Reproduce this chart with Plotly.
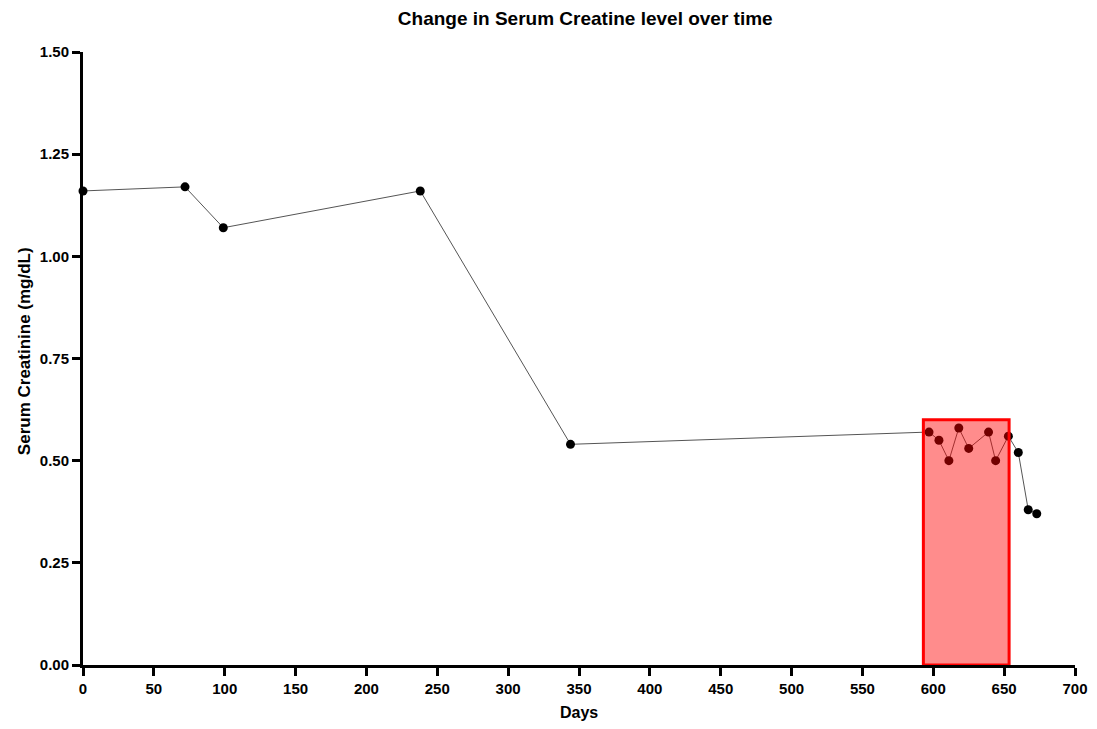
import plotly.graph_objects as go

days = [0, 72, 99, 238, 344, 597, 604, 611, 618, 625, 639, 644, 653, 660, 667, 673]
creatinine = [1.16, 1.17, 1.07, 1.16, 0.54, 0.57, 0.55, 0.50, 0.58, 0.53, 0.57, 0.50, 0.56, 0.52, 0.38, 0.37]

box_x = [593, 653.5]
box_y = [0, 0.6]

x_ticks = list(range(0, 701, 50))
y_ticks = [0.0, 0.25, 0.5, 0.75, 1.0, 1.25, 1.5]

font_family = "Liberation Sans, Arial, sans-serif"

fig = go.Figure()
fig.add_trace(go.Scatter(
    x=days, y=creatinine, mode="lines+markers",
    line=dict(color="#555555", width=1),
    marker=dict(color="black", size=9),
    showlegend=False, cliponaxis=False,
))

fig.add_shape(type="rect", xref="x", yref="y",
              x0=box_x[0], x1=box_x[1], y0=box_y[0], y1=box_y[1],
              fillcolor="rgba(255,0,0,0.45)",
              line=dict(color="#ff0000", width=3), layer="above")

fig.update_layout(
    width=1081, height=713,
    paper_bgcolor="white", plot_bgcolor="white",
    margin=dict(l=75, r=14, t=44, b=56),
    title=dict(text="<b>Change in Serum Creatine level over time</b>",
               x=0.534, xanchor="center", y=1 - 10.7 / 713, yanchor="middle",
               font=dict(family=font_family, size=19, color="black")),
    font=dict(family=font_family, color="black"),
    annotations=[
        dict(text="<b>Days</b>", xref="paper", yref="paper", x=0.5, y=-47/613,
             xanchor="center", yanchor="middle", showarrow=False,
             font=dict(size=16, family=font_family, color="black")),
        dict(text="<b>Serum Creatinine (mg/dL)</b>", xref="paper", yref="paper",
             x=0, y=0.512, xshift=-59, textangle=-90,
             xanchor="center", yanchor="middle", showarrow=False,
             font=dict(size=17, family=font_family, color="black")),
    ],
)

fig.update_xaxes(
    range=[0, 700], tickvals=x_ticks,
    ticktext=[f"<b>{t}</b>" for t in x_ticks],
    showgrid=False, zeroline=False, automargin=False,
    showline=True, linecolor="black", linewidth=3,
    ticks="outside", ticklen=8, tickwidth=3, tickcolor="black",
    tickfont=dict(size=15, family=font_family, color="black"),
)
fig.update_yaxes(
    range=[0, 1.5], tickvals=y_ticks,
    ticktext=[f"<b>{t:.2f}</b>" for t in y_ticks],
    showgrid=False, zeroline=False, automargin=False,
    showline=True, linecolor="black", linewidth=3,
    ticks="outside", ticklen=8, tickwidth=3, tickcolor="black",
    tickfont=dict(size=15, family=font_family, color="black"),
)

fig.write_html("out.html")
